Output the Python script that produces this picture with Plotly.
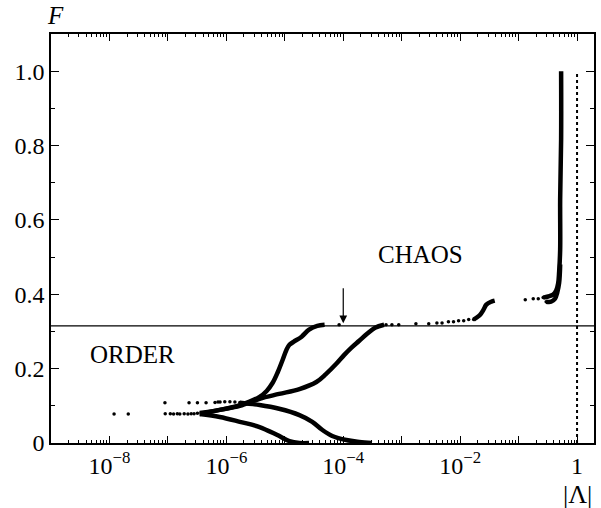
import math
import plotly.graph_objects as go

# ---------------- data ----------------
# sparse points of the ordered orbits (left part)
order_low_x = [1.2e-8, 2.1e-8, 9.0e-8, 1.1e-7, 1.25e-7, 1.45e-7, 1.6e-7, 1.9e-7, 2.2e-7, 2.5e-7, 2.8e-7, 3.2e-7]
order_low_F = [0.078, 0.078, 0.079, 0.079, 0.078, 0.079, 0.078, 0.079, 0.078, 0.079, 0.079, 0.080]
order_up_x = [8.9e-8, 2.3e-7, 3.2e-7, 4.5e-7, 6.4e-7, 7.2e-7, 7.8e-7, 9.4e-7, 1.15e-6, 1.4e-6, 1.7e-6]
order_up_F = [0.108, 0.108, 0.108, 0.108, 0.109, 0.110, 0.110, 0.111, 0.111, 0.110, 0.109]

# curve A (steep rise)
a_x = [3.5e-7, 7.7e-7, 1.7e-6, 3.7e-6, 4.9e-6, 6.2e-6, 7.6e-6, 9.2e-6, 1.07e-5, 1.2e-5, 1.41e-5, 1.94e-5, 2.6e-5, 3.6e-5, 4.8e-5]
a_F = [0.081, 0.089, 0.102, 0.124, 0.140, 0.162, 0.191, 0.224, 0.251, 0.264, 0.272, 0.286, 0.305, 0.315, 0.318]
# curve B (gentle rise)
b_x = [3.5e-7, 7.7e-7, 1.7e-6, 3.7e-6, 8.0e-6, 1.78e-5, 3.47e-5, 5.1e-5, 7.6e-5, 1.04e-4, 1.37e-4, 1.88e-4, 2.56e-4, 3.5e-4, 5.0e-4]
b_F = [0.078, 0.089, 0.100, 0.119, 0.132, 0.145, 0.164, 0.186, 0.213, 0.237, 0.256, 0.275, 0.294, 0.310, 0.318]
# curve C (descending, middle)
c_x = [1.7e-6, 3.7e-6, 8.0e-6, 1.78e-5, 2.95e-5, 4.4e-5, 6.5e-5, 1.13e-4, 1.88e-4, 3.1e-4]
c_F = [0.108, 0.102, 0.092, 0.075, 0.057, 0.035, 0.019, 0.008, 0.003, 0.0]
# curve D (descending, lowest)
d_x = [3.5e-7, 7.7e-7, 1.7e-6, 3.7e-6, 7.3e-6, 1.2e-5, 1.78e-5, 2.6e-5]
d_F = [0.078, 0.070, 0.057, 0.043, 0.022, 0.005, 0.0, 0.0]

# sparse points of the chaotic orbits
chaos_x = [8.5e-5, 5.4e-4, 6.8e-4, 8.9e-4, 1.75e-3, 2.9e-3, 4.0e-3, 4.9e-3, 6.3e-3, 7.7e-3, 9.4e-3, 1.15e-2, 1.4e-2, 1.7e-2,
           0.13, 0.178, 0.217, 0.263, 0.296]
chaos_F = [0.318, 0.318, 0.318, 0.318, 0.321, 0.321, 0.323, 0.323, 0.326, 0.326, 0.329, 0.329, 0.332, 0.332,
           0.385, 0.388, 0.388, 0.391, 0.380]
# small step near 10^-2
step_x = [1.7e-2, 1.9e-2, 2.2e-2, 2.5e-2, 2.8e-2, 3.4e-2, 3.9e-2]
step_F = [0.332, 0.337, 0.345, 0.358, 0.372, 0.380, 0.383]
# steep rise to F = 1
rise1_x = [0.263, 0.32, 0.39, 0.44, 0.475, 0.494, 0.514, 0.514, 0.534, 0.534]
rise1_F = [0.391, 0.394, 0.399, 0.41, 0.429, 0.461, 0.52, 0.655, 0.817, 1.0]
rise2_x = [0.296, 0.36, 0.42, 0.457, 0.494, 0.514]
rise2_F = [0.380, 0.380, 0.388, 0.404, 0.431, 0.48]

threshold = 0.315
lam_one = [1.0, 1.0]
lam_one_F = [0.0, 1.0]
arrow_x = 1e-4
arrow_F = [0.322, 0.42]

x_tickvals = [1e-9, 1e-8, 1e-7, 1e-6, 1e-5, 1e-4, 1e-3, 1e-2, 1e-1, 1]
x_ticktext = ["", "10<sup>\u22128</sup>", "", "10<sup>\u22126</sup>", "", "10<sup>\u22124</sup>", "",
              "10<sup>\u22122</sup>", "", "1"]
x_minor = [m * 10.0 ** e for e in range(-9, 0) for m in range(2, 10)]
y_tickvals = [0, 0.2, 0.4, 0.6, 0.8, 1.0]
y_ticktext = ["0", "0.2", "0.4", "0.6", "0.8", "1.0"]

# ---------------- figure ----------------
FONT = "Liberation Serif"
TICKFONT = dict(family=FONT, size=24, color="black")
fig = go.Figure()

dot = dict(color="black", size=3.5)
thick = dict(color="black", width=4.5, shape="spline")

fig.add_trace(go.Scatter(x=order_low_x, y=order_low_F, mode="markers", marker=dot))
fig.add_trace(go.Scatter(x=order_up_x, y=order_up_F, mode="markers", marker=dot))
for xs, ys in [(a_x, a_F), (b_x, b_F), (c_x, c_F), (d_x, d_F)]:
    fig.add_trace(go.Scatter(x=xs, y=ys, mode="lines", line=thick))
fig.add_trace(go.Scatter(x=chaos_x, y=chaos_F, mode="markers", marker=dot))
fig.add_trace(go.Scatter(x=step_x, y=step_F, mode="lines", line=thick))
fig.add_trace(go.Scatter(x=rise1_x, y=rise1_F, mode="lines", line=thick))
fig.add_trace(go.Scatter(x=rise2_x, y=rise2_F, mode="lines", line=thick))
fig.add_trace(go.Scatter(x=lam_one, y=lam_one_F, mode="lines",
                         line=dict(color="black", width=2, dash="dot")))

fig.add_shape(type="line", xref="paper", x0=0, x1=1, yref="y", y0=threshold, y1=threshold,
              line=dict(color="black", width=1.2))

fig.add_annotation(x=math.log10(arrow_x), y=arrow_F[0], ax=math.log10(arrow_x), ay=arrow_F[1],
                   xref="x", yref="y", axref="x", ayref="y", text="", showarrow=True,
                   arrowhead=2, arrowsize=1.3, arrowwidth=1.2, arrowcolor="black", standoff=0)

fig.add_annotation(x=math.log10(2.1e-3), y=0.507, xref="x", yref="y", text="CHAOS", showarrow=False,
                   font=dict(family=FONT, size=25, color="black"))
fig.add_annotation(x=math.log10(2.5e-8), y=0.237, xref="x", yref="y", text="ORDER", showarrow=False,
                   font=dict(family=FONT, size=25, color="black"))

# axis titles placed like the reference (F top-left, |Λ| bottom-right)
fig.add_annotation(x=0.0, y=1.0, xref="paper", yref="paper", xanchor="center", yanchor="middle",
                   xshift=4, yshift=19, text="<i>F</i>",
                   showarrow=False, font=dict(family=FONT, size=25, color="black"))
fig.add_annotation(x=0, y=0, xref="x", yref="paper", xanchor="center", yanchor="middle",
                   yshift=-51, text="|\u039b|",
                   showarrow=False, font=dict(family=FONT, size=26, color="black"))

fig.update_layout(
    width=601, height=508,
    margin=dict(l=51, r=5, t=34, b=65),
    paper_bgcolor="white", plot_bgcolor="white",
    showlegend=False,
    font=dict(family=FONT, size=24, color="black"),
)
fig.update_xaxes(
    type="log", range=[-9, 0.29],
    tickmode="array", tickvals=x_tickvals, ticktext=x_ticktext, tickfont=TICKFONT,
    ticks="inside", ticklen=7, tickwidth=1.2, tickcolor="black",
    minor=dict(tickmode="array", tickvals=x_minor, ticks="inside", ticklen=3.5, tickwidth=1, tickcolor="black"),
    showline=True, linecolor="black", linewidth=1.5, mirror="allticks",
    showgrid=False, zeroline=False,
)
fig.update_yaxes(
    range=[0, 1.1],
    tickmode="array", tickvals=y_tickvals, ticktext=y_ticktext, tickfont=TICKFONT,
    ticks="inside", ticklen=8, tickwidth=1.2, tickcolor="black",
    minor=dict(dtick=0.1, ticks="inside", ticklen=4, tickwidth=1, tickcolor="black"),
    showline=True, linecolor="black", linewidth=1.5, mirror="allticks",
    showgrid=False, zeroline=False,
)

fig.write_html("out.html")
